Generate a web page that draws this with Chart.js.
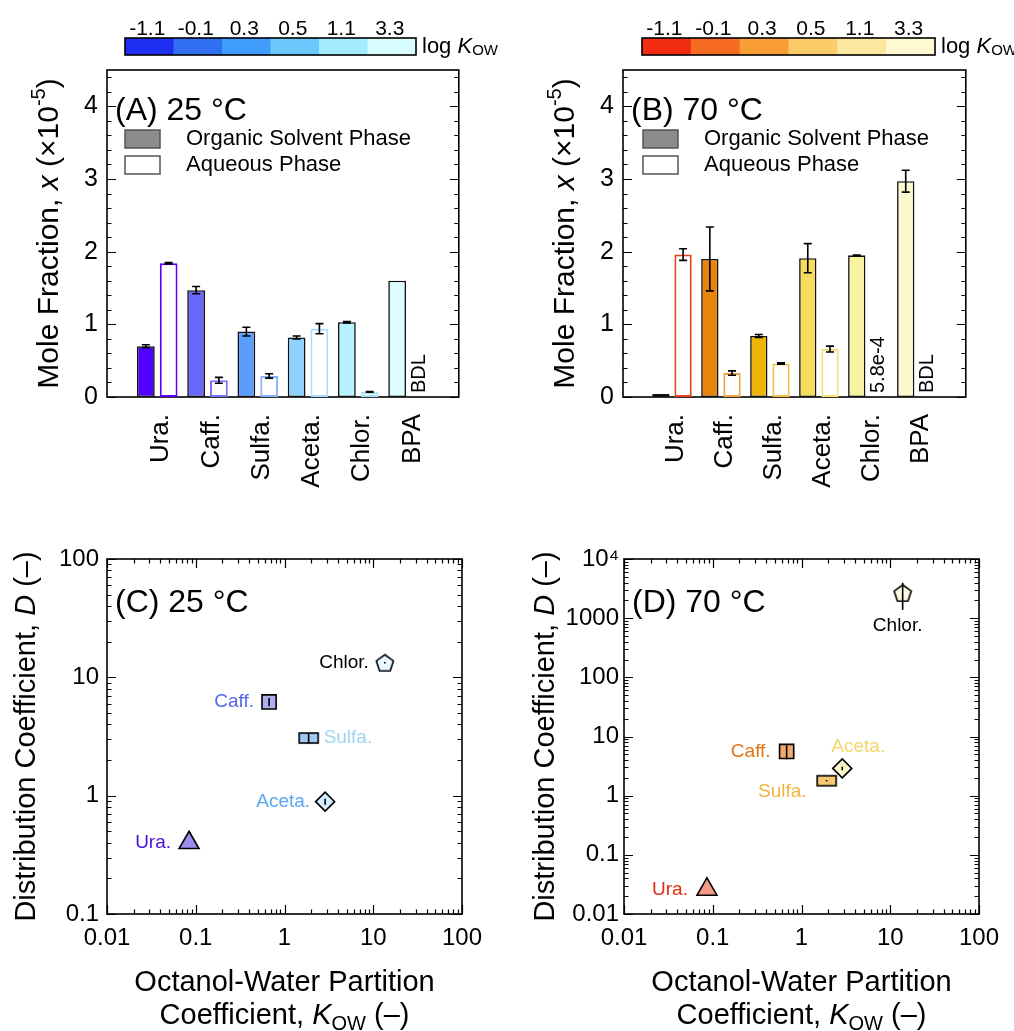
<!DOCTYPE html>
<html>
<head>
<meta charset="utf-8">
<script src="https://cdn.jsdelivr.net/npm/chart.js@4.4.0/dist/chart.umd.min.js"></script>
<style>
  html, body { margin: 0; padding: 0; background: #fff; }
  #wrap { position: relative; width: 1014px; height: 1031px; }
  canvas { position: absolute; }
</style>
</head>
<body>
<div id="wrap">
  <canvas id="chartA" width="507" height="500" style="left:0;top:0"></canvas>
  <canvas id="chartB" width="507" height="500" style="left:507px;top:0"></canvas>
  <canvas id="chartC" width="507" height="531" style="left:0;top:500px"></canvas>
  <canvas id="chartD" width="507" height="531" style="left:507px;top:500px"></canvas>
</div>
<script>
const FONT = '"Liberation Sans", Arial, Helvetica, sans-serif';
Chart.defaults.font.family = FONT;
Chart.defaults.color = '#000';

// --- datos ---
const compounds = ['Ura.', 'Caff.', 'Sulfa.', 'Aceta.', 'Chlor.', 'BPA'];
const logKowTicks = ['-1.1', '-0.1', '0.3', '0.5', '1.1', '3.3'];
const barYTicks = [0, 1, 2, 3, 4];

// (A) 25 °C, fracción molar x 1e-5
const organicA = [0.70, 1.47, 0.90, 0.82, 1.03, 1.60];
const organicAErr = [0.02, 0.05, 0.06, 0.02, 0.01, 0];
const aqueousA = [1.84, 0.23, 0.29, 0.94, 0.07, null];
const aqueousAErr = [0.01, 0.04, 0.03, 0.07, 0.005, 0];
const notesA = ['', '', '', '', '', 'BDL'];

// (B) 70 °C
const organicB = [0.04, 1.90, 0.84, 1.91, 1.95, 2.97];
const organicBErr = [0, 0.44, 0.02, 0.20, 0.005, 0.15];
const aqueousB = [1.96, 0.33, 0.46, 0.66, 0.00058, null];
const aqueousBErr = [0.08, 0.03, 0.01, 0.04, 0, 0];
const notesB = ['', '', '', '', '5.8e-4', 'BDL'];

// (C) y (D): coeficiente de distribución vs Kow
const scatterNames = ['Ura.', 'Caff.', 'Sulfa.', 'Aceta.', 'Chlor.'];
const kowC = [0.084, 0.67, 1.87, 2.87, 13.5];
const distC = [0.40, 6.2, 3.07, 0.89, 13.3];
const distCErr = [0, 0.5, 0.3, 0.05, 0.2];
const kowD = [0.086, 0.68, 1.92, 2.88, 13.8];
const distD = [0.026, 5.6, 1.79, 2.89, 2680];
const distDErr = [0, 1.5, 0.05, 0.2, 1300];

const logXTicks = [0.01, 0.1, 1, 10, 100];
const logXTickLabels = ['0.01', '0.1', '1', '10', '100'];
const cYTicks = [0.1, 1, 10, 100];
const cYTickLabels = ['0.1', '1', '10', '100'];
const dYTicks = [0.01, 0.1, 1, 10, 100, 1000, 10000];
const dYTickLabels = ['0.01', '0.1', '1', '10', '100', '1000', '10⁴'];

// --- colores ---
const blueScale = ['#1f2ff2', '#2f6ff0', '#3f9cfb', '#6cc7fd', '#a3ecfe', '#d6fcfe'];
const orangeScale = ['#f22c10', '#f56b22', '#f89e35', '#fccb6a', '#fde79e', '#fff9d2'];
const blueFill = ['#5200ff', '#6868ff', '#5b9dfe', '#8dd1ff', '#b8f1ff', '#dcfcff'];
const blueEdge = ['#5a00ff', '#7a70ff', '#8ab0ff', '#a8dcff', '#a8e2f5', '#cccccc'];
const orangeFill = ['#c23a14', '#e9840c', '#eeb404', '#f5dc5c', '#f9f3a0', '#fdf9cf'];
const orangeEdge = ['#e8401e', '#eda040', '#f0c244', '#f6e27a', '#f5ef9a', '#cccccc'];
const fillC = ['#9b8cf0', '#aeaef0', '#a3c6f5', '#d2efff', '#e6fbff'];
const textC = ['#4a14e0', '#5566ee', '#a0d4f5', '#5ca8f0', '#000000'];
const fillD = ['#f69a88', '#f2a86a', '#f6c872', '#fbf7c6', '#fbfae2'];
const textD = ['#e02c12', '#e27414', '#f0b440', '#f5d668', '#000000'];

const pad = arr => [null, ...arr, null];

// texto con cursiva / subíndices / superíndices
function richText(ctx, parts, x, y, size, rot) {
  ctx.save();
  ctx.translate(x, y);
  ctx.rotate(rot || 0);
  const fontFor = p => (p.it ? 'italic ' : '') + Math.round(p.sub || p.sup ? size * 0.68 : size) + 'px ' + FONT;
  let total = 0;
  parts.forEach(p => { ctx.font = fontFor(p); p.w = ctx.measureText(p.t).width; total += p.w; });
  let cx = -total / 2;
  ctx.textAlign = 'left';
  ctx.textBaseline = 'alphabetic';
  ctx.fillStyle = '#000';
  parts.forEach(p => {
    ctx.font = fontFor(p);
    const dy = p.sup ? -size * 0.42 : p.sub ? size * 0.2 : 0;
    ctx.fillText(p.t, cx, size * 0.36 + dy);
    cx += p.w;
  });
  ctx.restore();
}

function logMinor(min, max) {
  const out = [];
  for (let e = Math.round(Math.log10(min)); e < Math.round(Math.log10(max)); e++) {
    for (let k = 2; k < 10; k++) out.push(k * Math.pow(10, e));
  }
  return out;
}

// marco y marcas hacia dentro en los cuatro lados
const frame = {
  id: 'frame',
  beforeDatasetsDraw(chart, args, o) {
    const { ctx, chartArea: a } = chart;
    ctx.save();
    ctx.strokeStyle = '#000';
    ctx.lineWidth = 1.2;
    ctx.beginPath();
    const ys = chart.scales.y, xs = chart.scales.x;
    const yt = (vals, len) => vals.forEach(v => {
      const p = Math.round(ys.getPixelForValue(v)) + 0.5;
      ctx.moveTo(a.left, p); ctx.lineTo(a.left + len, p);
      ctx.moveTo(a.right, p); ctx.lineTo(a.right - len, p);
    });
    const xt = (vals, len) => vals.forEach(v => {
      const p = Math.round(xs.getPixelForValue(v)) + 0.5;
      ctx.moveTo(p, a.bottom); ctx.lineTo(p, a.bottom - len);
      ctx.moveTo(p, a.top); ctx.lineTo(p, a.top + len);
    });
    yt(o.yMajor || [], 9);
    yt(o.yMinor || [], 4.5);
    xt(o.xMajor || [], 9);
    xt(o.xMinor || [], 4.5);
    ctx.stroke();
    ctx.lineWidth = 1.6;
    ctx.strokeRect(a.left, a.top, a.right - a.left, a.bottom - a.top);
    ctx.restore();
  }
};

// barras de error verticales
const errorBars = {
  id: 'errorBars',
  afterDatasetsDraw(chart) {
    const ctx = chart.ctx, ys = chart.scales.y;
    ctx.save();
    ctx.strokeStyle = '#000';
    ctx.lineWidth = 1.6;
    chart.data.datasets.forEach((ds, di) => {
      if (!ds.errors) return;
      chart.getDatasetMeta(di).data.forEach((el, i) => {
        const raw = ds.data[i], e = ds.errors[i];
        if (raw == null || !e) return;
        const v = typeof raw === 'object' ? raw.y : raw;
        const top = ys.getPixelForValue(v + e);
        const bot = ys.getPixelForValue(Math.max(v - e, ys.min));
        const cap = ds.capWidth || 0;
        ctx.beginPath();
        ctx.moveTo(el.x, top); ctx.lineTo(el.x, bot);
        if (cap) {
          ctx.moveTo(el.x - cap, top); ctx.lineTo(el.x + cap, top);
          ctx.moveTo(el.x - cap, bot); ctx.lineTo(el.x + cap, bot);
        }
        ctx.stroke();
      });
    });
    ctx.restore();
  }
};

// notas giradas (BDL, 5.8e-4) en la posición de la barra acuosa
const barNotes = {
  id: 'barNotes',
  afterDatasetsDraw(chart) {
    const ctx = chart.ctx, a = chart.chartArea;
    chart.data.datasets.forEach((ds, di) => {
      if (!ds.notes) return;
      chart.getDatasetMeta(di).data.forEach((el, i) => {
        const t = ds.notes[i];
        if (!t) return;
        const step = chart.scales.x.getPixelForValue(i + 1) - chart.scales.x.getPixelForValue(i);
        const x = chart.scales.x.getPixelForValue(i) + step * 0.227;
        ctx.save();
        ctx.translate(x, a.bottom - 4);
        ctx.rotate(-Math.PI / 2);
        ctx.font = '20px ' + FONT;
        ctx.fillStyle = '#000';
        ctx.textAlign = 'left';
        ctx.textBaseline = 'middle';
        ctx.fillText(t, 0, 0);
        ctx.restore();
      });
    });
  }
};

// etiquetas de compuestos en los diagramas de dispersión
const pointNames = {
  id: 'pointNames',
  afterDatasetsDraw(chart, args, o) {
    const ctx = chart.ctx;
    const meta = chart.getDatasetMeta(0);
    ctx.save();
    ctx.font = '19px ' + FONT;
    ctx.textBaseline = 'middle';
    meta.data.forEach((el, i) => {
      const [dx, dy, align] = o.offsets[i];
      ctx.fillStyle = o.colors[i];
      ctx.textAlign = align;
      ctx.fillText(o.names[i], el.x + dx, el.y + dy);
    });
    ctx.restore();
  }
};

// textos y decoraciones de cada panel
const decor = {
  id: 'decor',
  afterDraw(chart, args, o) {
    const { ctx, chartArea: a } = chart;
    ctx.save();
    // etiqueta del panel
    ctx.font = '32px ' + FONT;
    ctx.fillStyle = '#000';
    ctx.textAlign = 'left';
    ctx.textBaseline = 'alphabetic';
    ctx.fillText(o.panel, a.left + o.panelDx, a.top + o.panelDy);
    // título eje y
    richText(ctx, o.yTitle, o.yTitleX, (a.top + a.bottom) / 2, o.yTitleSize || 29, -Math.PI / 2);
    // título eje x (dos líneas)
    if (o.xTitle) {
      o.xTitle.forEach((line, k) => richText(ctx, line, (a.left + a.right) / 2, o.xTitleY[k], 29, 0));
    }
    // barra de color log Kow
    if (o.colorbar) {
      const cb = o.colorbar;
      const w = (cb.x1 - cb.x0) / cb.colors.length;
      cb.colors.forEach((c, i) => {
        ctx.fillStyle = c;
        ctx.fillRect(cb.x0 + i * w, cb.y0, w + 0.5, cb.y1 - cb.y0);
      });
      ctx.strokeStyle = '#000';
      ctx.lineWidth = 1.6;
      ctx.strokeRect(cb.x0, cb.y0, cb.x1 - cb.x0, cb.y1 - cb.y0);
      ctx.fillStyle = '#000';
      ctx.font = '21px ' + FONT;
      ctx.textAlign = 'center';
      ctx.textBaseline = 'alphabetic';
      logKowTicks.forEach((t, i) => ctx.fillText(t, cb.x0 + (i + 0.5) * w - 2, cb.y0 - 3));
      ctx.textAlign = 'left';
      ctx.textBaseline = 'middle';
      ctx.font = '22px ' + FONT;
      ctx.fillText('log ', cb.x1 + 6, (cb.y0 + cb.y1) / 2);
      const lw = ctx.measureText('log ').width;
      ctx.font = 'italic 22px ' + FONT;
      ctx.fillText('K', cb.x1 + 6 + lw, (cb.y0 + cb.y1) / 2);
      const kw = ctx.measureText('K').width;
      ctx.font = '15px ' + FONT;
      ctx.fillText('OW', cb.x1 + 6 + lw + kw, (cb.y0 + cb.y1) / 2 + 4);
    }
    // leyenda
    if (o.legend) {
      const lg = o.legend;
      const items = [
        { label: chart.data.datasets[0].label, fill: '#8c8c8c' },
        { label: chart.data.datasets[1].label, fill: '#ffffff' }
      ];
      items.forEach((it, k) => {
        const y = lg.y + k * lg.dy;
        ctx.fillStyle = it.fill;
        ctx.fillRect(lg.x, y - 9, 35, 18);
        ctx.strokeStyle = '#555';
        ctx.lineWidth = 1.5;
        ctx.strokeRect(lg.x, y - 9, 35, 18);
        ctx.fillStyle = '#000';
        ctx.font = '22px ' + FONT;
        ctx.textAlign = 'left';
        ctx.textBaseline = 'middle';
        ctx.fillText(it.label, lg.x + 61, y);
      });
    }
    ctx.restore();
  }
};

const moleTitle = [
  { t: 'Mole Fraction, ' }, { t: 'x', it: true }, { t: ' (×10' }, { t: '-5', sup: true }, { t: ')' }
];
const distTitle = [
  { t: 'Distribution Coefficient, ' }, { t: 'D', it: true }, { t: ' (–)' }
];
const kowTitle = [
  [{ t: 'Octanol-Water Partition' }],
  [{ t: 'Coefficient, ' }, { t: 'K', it: true }, { t: 'OW', sub: true }, { t: ' (–)' }]
];

const barMinor = [];
for (let v = 0.2; v < 4.5; v += 0.2) barMinor.push(+v.toFixed(1));

function barChart(id, cfg) {
  return new Chart(document.getElementById(id), {
    type: 'bar',
    data: {
      labels: pad(compounds).map(v => v || ''),
      datasets: [
        {
          label: 'Organic Solvent Phase',
          data: pad(cfg.organic),
          errors: pad(cfg.organicErr),
          capWidth: 4,
          backgroundColor: pad(cfg.fill),
          borderColor: '#111',
          borderWidth: 1.6,
          borderSkipped: false
        },
        {
          label: 'Aqueous Phase',
          data: pad(cfg.aqueous),
          errors: pad(cfg.aqueousErr),
          notes: pad(cfg.notes),
          capWidth: 4,
          backgroundColor: '#ffffff',
          borderColor: pad(cfg.edge),
          borderWidth: 2,
          borderSkipped: false
        }
      ]
    },
    options: {
      responsive: false,
      animation: false,
      categoryPercentage: 0.907,
      barPercentage: 0.78,
      layout: { padding: { left: 0, top: 70, right: cfg.right, bottom: 0 } },
      scales: {
        x: {
          type: 'category',
          offset: false,
          grid: { display: false, drawTicks: false },
          border: { display: false },
          ticks: {
            minRotation: 90, maxRotation: 90, autoSkip: false, padding: 17, labelOffset: 4,
            font: { size: 26 }, color: '#000'
          },
          afterFit: s => { s.height = 103; }
        },
        y: {
          min: 0,
          max: 4.5,
          grid: { display: false, drawTicks: false },
          border: { display: false },
          afterBuildTicks: s => { s.ticks = barYTicks.map(v => ({ value: v })); },
          ticks: { padding: 9, font: { size: 25 }, color: '#000' },
          afterFit: s => { s.width = cfg.left; }
        }
      },
      plugins: {
        legend: { display: false },
        tooltip: { enabled: false },
        frame: { yMajor: barYTicks, yMinor: barMinor },
        decor: {
          panel: cfg.panel, panelDx: 8, panelDy: 50,
          yTitle: moleTitle, yTitleX: cfg.left - 60, yTitleSize: 30,
          colorbar: cfg.colorbar,
          legend: cfg.legend
        }
      }
    },
    plugins: [frame, errorBars, barNotes, decor]
  });
}

barChart('chartA', {
  organic: organicA, organicErr: organicAErr, aqueous: aqueousA, aqueousErr: aqueousAErr, notes: notesA,
  fill: blueFill, edge: blueEdge, left: 107, right: 45, panel: '(A) 25 °C',
  colorbar: { x0: 125, x1: 416, y0: 38, y1: 55, colors: blueScale },
  legend: { x: 125, y: 139, dy: 26 }
});
barChart('chartB', {
  organic: organicB, organicErr: organicBErr, aqueous: aqueousB, aqueousErr: aqueousBErr, notes: notesB,
  fill: orangeFill, edge: orangeEdge, left: 116, right: 35, panel: '(B) 70 °C',
  colorbar: { x0: 135, x1: 428, y0: 38, y1: 55, colors: orangeScale },
  legend: { x: 136, y: 139, dy: 26 }
});

// marcadores especiales: rectángulo ancho y pentágono
function rectMarker(w, h, fill) {
  const c = document.createElement('canvas');
  c.width = w + 4; c.height = h + 4;
  const g = c.getContext('2d');
  g.fillStyle = fill; g.strokeStyle = '#000'; g.lineWidth = 1.6;
  g.fillRect(2, 2, w, h); g.strokeRect(2, 2, w, h);
  return c;
}
function pentagonMarker(r, fill) {
  const c = document.createElement('canvas');
  c.width = c.height = Math.ceil(2 * r + 6);
  const g = c.getContext('2d');
  const cx = c.width / 2, cy = c.height / 2 + 1;
  g.beginPath();
  for (let k = 0; k < 5; k++) {
    const ang = -Math.PI / 2 + k * 2 * Math.PI / 5;
    g.lineTo(cx + r * Math.cos(ang), cy + r * Math.sin(ang));
  }
  g.closePath();
  g.fillStyle = fill; g.fill();
  g.strokeStyle = '#000'; g.lineWidth = 1.6; g.stroke();
  return c;
}

function scatterChart(id, cfg) {
  const styles = ['triangle', 'rect', rectMarker(19, 10, cfg.fill[2]), 'rectRot', pentagonMarker(9, cfg.fill[4])];
  const radii = [11.5, 10, 10, 9.5, 10];
  const yMajor = cfg.yTicks;
  return new Chart(document.getElementById(id), {
    type: 'scatter',
    data: {
      datasets: [{
        data: cfg.kow.map((k, i) => ({ x: k, y: cfg.dist[i] })),
        errors: cfg.err,
        capWidth: 0,
        pointStyle: c => styles[c.dataIndex],
        pointRadius: c => radii[c.dataIndex],
        pointBackgroundColor: c => cfg.fill[c.dataIndex],
        pointBorderColor: '#000',
        pointBorderWidth: 1.6
      }]
    },
    options: {
      responsive: false,
      animation: false,
      layout: { padding: { left: 0, top: 59, right: cfg.right, bottom: 0 } },
      scales: {
        x: {
          type: 'logarithmic',
          min: 0.01, max: 100,
          grid: { display: false, drawTicks: false },
          border: { display: false },
          afterBuildTicks: s => { s.ticks = logXTicks.map(v => ({ value: v })); },
          ticks: {
            autoSkip: false, maxRotation: 0, padding: 10, font: { size: 24 }, color: '#000',
            callback: v => logXTickLabels[logXTicks.indexOf(v)]
          },
          afterFit: s => { s.height = 117; }
        },
        y: {
          type: 'logarithmic',
          min: cfg.yTicks[0], max: cfg.yTicks[cfg.yTicks.length - 1],
          grid: { display: false, drawTicks: false },
          border: { display: false },
          afterBuildTicks: s => { s.ticks = cfg.yTicks.map(v => ({ value: v })); },
          ticks: {
            autoSkip: false, padding: cfg.yPad, font: { size: 24 }, color: '#000',
            callback: v => cfg.yLabels[cfg.yTicks.indexOf(v)]
          },
          afterFit: s => { s.width = cfg.left; }
        }
      },
      plugins: {
        legend: { display: false },
        tooltip: { enabled: false },
        frame: {
          xMajor: logXTicks, xMinor: logMinor(0.01, 100),
          yMajor: yMajor, yMinor: logMinor(yMajor[0], yMajor[yMajor.length - 1])
        },
        pointNames: { names: scatterNames, colors: cfg.text, offsets: cfg.offsets },
        decor: {
          panel: cfg.panel, panelDx: 8, panelDy: 53,
          yTitle: distTitle, yTitleX: cfg.titleX,
          xTitle: kowTitle, xTitleY: [481, 514]
        }
      }
    },
    plugins: [frame, errorBars, pointNames, decor]
  });
}

scatterChart('chartC', {
  kow: kowC, dist: distC, err: distCErr, fill: fillC, text: textC,
  yTicks: cYTicks, yLabels: cYTickLabels, left: 107, right: 45, yPad: 8, titleX: 25,
  panel: '(C) 25 °C',
  offsets: [[-18, 0, 'right'], [-15, 0, 'right'], [15, 0, 'left'], [-15, 0, 'right'], [-16, 0, 'right']]
});
scatterChart('chartD', {
  kow: kowD, dist: distD, err: distDErr, fill: fillD, text: textD,
  yTicks: dYTicks, yLabels: dYTickLabels, left: 117, right: 35, yPad: 5, titleX: 37,
  panel: '(D) 70 °C',
  offsets: [[-19, 0, 'right'], [-16, 0, 'right'], [-20, 11, 'right'], [16, -22, 'center'], [-5, 33, 'center']]
});
</script>
</body>
</html>
